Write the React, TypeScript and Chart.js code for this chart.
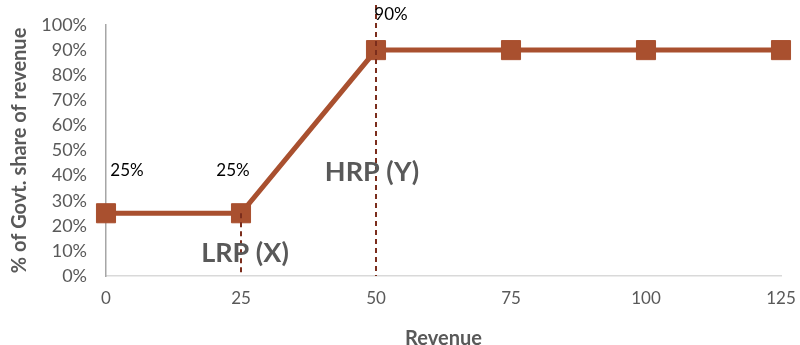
import React, { useEffect, useRef } from "react";
import { Chart, registerables } from "chart.js";

Chart.register(...registerables);

const revenue = [0, 25, 50, 75, 100, 125];
const govtShare = [25, 25, 90, 90, 90, 90];
const pointLabels = ["25%", "25%", "90%", "", "", ""];
const xTicks = [0, 25, 50, 75, 100, 125];
const refLines = [
  { x: 25, from: 25, to: 0, label: "LRP (X)", labelY: 9 },
  { x: 50, from: 108, to: 0, label: "HRP (Y)", labelY: 41.5 },
];

const LINE = "#A9502F";
const GREY = "#595959";
const FONT = "Lato, 'Open Sans', sans-serif";

const overlay = {
  id: "overlay",
  afterDatasetsDraw(chart: any) {
    const { ctx } = chart;
    const xs = chart.scales.x;
    const ys = chart.scales.y;
    ctx.save();
    ctx.strokeStyle = "#7B2D1C";
    ctx.lineWidth = 2;
    ctx.setLineDash([5, 4]);
    refLines.forEach((r) => {
      const px = xs.getPixelForValue(r.x);
      ctx.beginPath();
      ctx.moveTo(px, ys.getPixelForValue(r.from));
      ctx.lineTo(px, ys.getPixelForValue(r.to));
      ctx.stroke();
    });
    ctx.setLineDash([]);
    ctx.font = "bold 27px " + FONT;
    ctx.fillStyle = GREY;
    ctx.textAlign = "center";
    ctx.textBaseline = "middle";
    refLines.forEach((r, i) => {
      const px = xs.getPixelForValue(r.x) + (i === 0 ? 4 : -4);
      ctx.fillText(r.label, px, ys.getPixelForValue(r.labelY));
    });
    const offs = [
      [21, -43],
      [-8, -43],
      [15, -36],
    ];
    ctx.font = "17px " + FONT;
    ctx.fillStyle = "#000000";
    pointLabels.forEach((t, i) => {
      if (!t) return;
      const px = xs.getPixelForValue(revenue[i]);
      const py = ys.getPixelForValue(govtShare[i]);
      const o = offs[i] || [0, -20];
      ctx.fillText(t, px + o[0], py + o[1]);
    });
    ctx.restore();
  },
};

export default function App() {
  const ref = useRef<HTMLCanvasElement>(null);
  useEffect(() => {
    document.body.style.margin = "0";
    const chart = new Chart(ref.current!, {
      type: "line",
      data: {
        datasets: [
          {
            data: revenue.map((x, i) => ({ x, y: govtShare[i] })),
            borderColor: LINE,
            backgroundColor: LINE,
            borderWidth: 5,
            pointStyle: "rect",
            pointRadius: 13.5,
            pointBorderWidth: 1,
            pointBorderColor: LINE,
            pointBackgroundColor: LINE,
            tension: 0,
            clip: false,
          },
        ],
      },
      options: {
        animation: false,
        responsive: false,
        maintainAspectRatio: false,
        layout: { padding: { top: 25, right: 19, left: 0, bottom: 0 } },
        plugins: { legend: { display: false }, tooltip: { enabled: false } },
        scales: {
          x: {
            type: "linear",
            min: 0,
            max: 125,
            afterBuildTicks: (s: any) => {
              s.ticks = xTicks.map((v) => ({ value: v }));
            },
            grid: { drawOnChartArea: false, drawTicks: false },
            border: { color: "#D9D9D9", width: 1.5 },
            ticks: {
              padding: 12,
              color: GREY,
              font: { family: FONT, size: 17 },
              maxRotation: 0,
            },
            title: {
              display: true,
              text: "Revenue",
              color: GREY,
              font: { family: FONT, size: 20, weight: "bold" },
              padding: { top: 11, bottom: -6 },
            },
            afterFit: (s: any) => {
              s.height = 69;
              s.paddingLeft = 0;
              s.paddingRight = 0;
            },
          },
          y: {
            min: 0,
            max: 100,
            ticks: {
              stepSize: 10,
              padding: 19,
              color: GREY,
              font: { family: FONT, size: 18 },
              callback: (v: any) => v + "%",
            },
            grid: { drawOnChartArea: false, drawTicks: false },
            border: { color: "#A6A6A6", width: 1.5 },
            title: {
              display: true,
              text: "% of Govt. share of revenue",
              color: GREY,
              font: { family: FONT, size: 20, weight: "bold" },
              padding: { bottom: 0, top: 8 },
            },
            afterFit: (s: any) => {
              s.width = 106;
              s.paddingTop = 0;
              s.paddingBottom = 0;
            },
          },
        },
      },
      plugins: [overlay],
    } as any);
    return () => chart.destroy();
  }, []);
  return (
    <div style={{ position: "absolute", left: 0, top: 0, width: 800, height: 345 }}>
      <canvas ref={ref} width={800} height={345} />
    </div>
  );
}
